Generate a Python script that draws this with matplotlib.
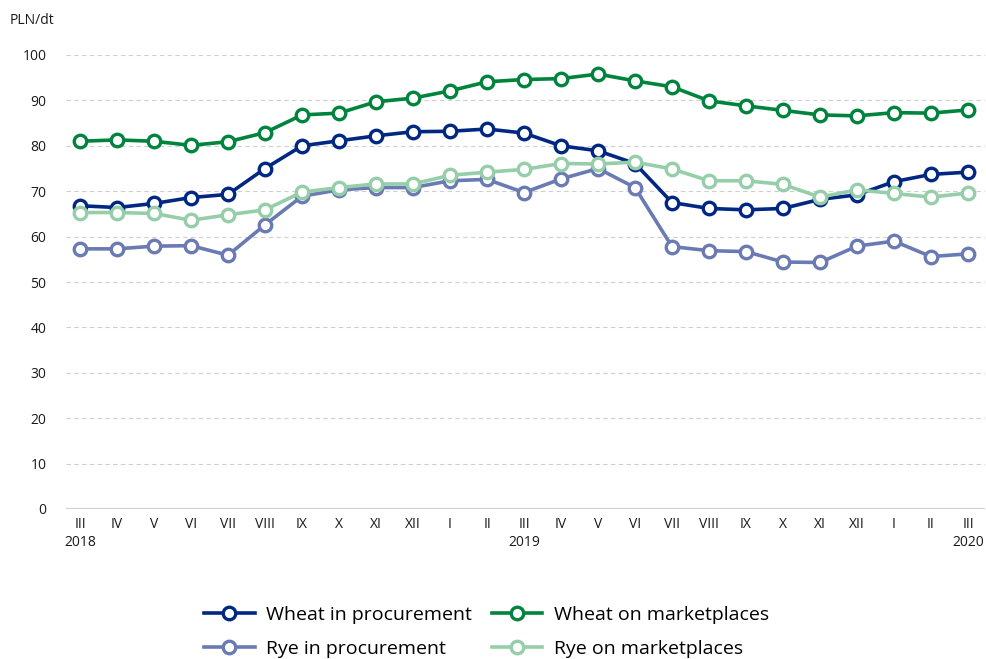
import numpy as np
import matplotlib.pyplot as plt

plt.rcParams['font.family'] = ['Open Sans', 'DejaVu Sans']

months = ["III", "IV", "V", "VI", "VII", "VIII", "IX", "X", "XI", "XII", "I", "II",
          "III", "IV", "V", "VI", "VII", "VIII", "IX", "X", "XI", "XII", "I", "II", "III"]
years = {0: "2018", 12: "2019", 24: "2020"}

wheat_proc = [66.8, 66.4, 67.3, 68.6, 69.3, 75.0, 80.0, 81.1, 82.2, 83.1, 83.2, 83.7,
              82.8, 80.0, 78.9, 76.1, 67.5, 66.2, 65.9, 66.2, 68.2, 69.2, 72.1, 73.7, 74.2]
wheat_mkt = [81.0, 81.3, 81.0, 80.1, 80.9, 82.9, 86.8, 87.2, 89.7, 90.5, 92.1, 94.1,
             94.6, 94.8, 95.8, 94.3, 93.0, 89.9, 88.8, 87.8, 86.8, 86.6, 87.3, 87.2, 87.9]
rye_proc = [57.3, 57.3, 57.9, 58.0, 55.9, 62.6, 68.9, 70.3, 70.8, 70.8, 72.3, 72.6,
            69.7, 72.7, 75.0, 70.8, 57.8, 56.9, 56.7, 54.4, 54.3, 57.9, 59.0, 55.6, 56.2]
rye_mkt = [65.3, 65.3, 65.1, 63.6, 64.8, 65.9, 69.8, 70.8, 71.6, 71.6, 73.5, 74.2,
           74.8, 76.1, 76.0, 76.4, 74.9, 72.3, 72.3, 71.5, 68.7, 70.3, 69.5, 68.7, 69.6]

series = [
    ("Wheat in procurement", wheat_proc, "#002882"),
    ("Wheat on marketplaces", wheat_mkt, "#00843D"),
    ("Rye in procurement", rye_proc, "#6A7BB4"),
    ("Rye on marketplaces", rye_mkt, "#96CEAA"),
]
# draw order: rye first so wheat lines sit on top
draw_order = [3, 2, 0, 1]

fig = plt.figure(figsize=(9.87, 6.59), dpi=100)
ax = fig.add_axes([66 / 987, 1 - 509 / 659, (985 - 66) / 987, (509 - 55) / 659])

x = np.arange(len(months))
handles = {}
for i in draw_order:
    name, vals, col = series[i]
    h, = ax.plot(x, vals, color=col, lw=2.6, marker='o', ms=9, mfc='white',
                 mec=col, mew=2.4, label=name, zorder=3 + i)
    handles[i] = h

ax.set_ylim(0, 100)
ax.set_xlim(-0.38, 24.46)
ax.set_yticks(range(0, 101, 10))
ax.set_xticks(x)
ax.set_xticklabels([m + ("\n" + years[i] if i in years else "") for i, m in enumerate(months)])
ax.tick_params(length=0, labelsize=10, colors="#1a1a1a", pad=6)
ax.tick_params(axis='y', pad=14)
ax.grid(axis='y', color='#cfcfcf', ls=(0, (4, 3)), lw=0.8)
ax.set_axisbelow(True)
for s in ax.spines.values():
    s.set_visible(False)
ax.axhline(0, color='#d0d0d0', lw=1.5, zorder=1)

fig.text(10 / 987, 1 - 20 / 659, "PLN/dt", fontsize=10, va='center', ha='left', color="#1a1a1a")

# column-major fill: wheat pair on the first row, rye pair on the second
order = [0, 2, 1, 3]
leg = fig.legend([handles[i] for i in order], [series[i][0] for i in order],
                 ncol=2, loc='center', bbox_to_anchor=(0.493, 1 - 632 / 659),
                 frameon=False, fontsize=14, handlelength=2.6, columnspacing=1.0,
                 labelspacing=0.85, handletextpad=0.6)

fig.savefig("out.png", dpi=100)
